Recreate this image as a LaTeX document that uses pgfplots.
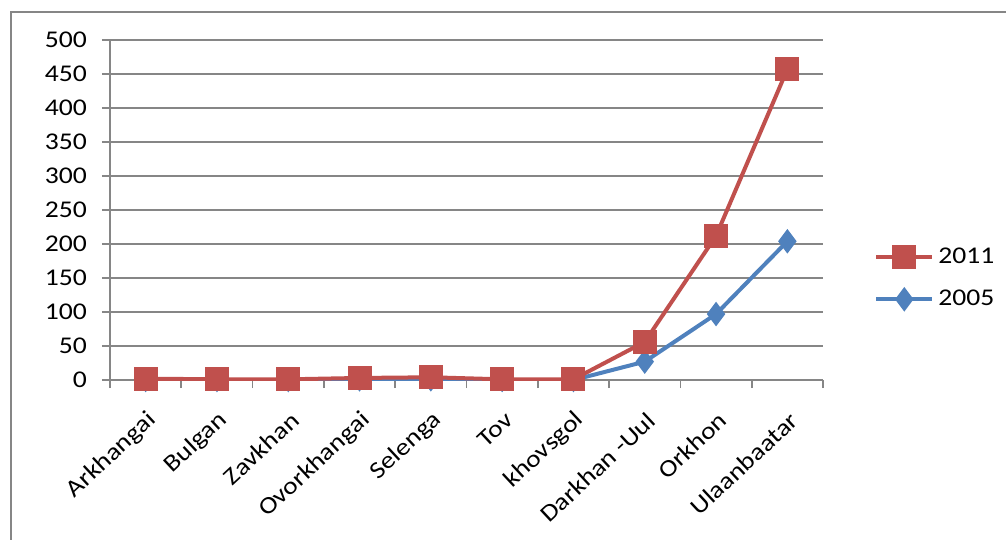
\documentclass[border=0pt]{standalone}
\usepackage{fontspec}
\setmainfont{Carlito}[FakeStretch=1.15]
\usepackage{pgfplots}
\pgfplotsset{compat=1.18}
\definecolor{serred}{HTML}{C0504D}
\definecolor{serblue}{HTML}{4F81BD}
\definecolor{linegray}{HTML}{868686}

\begin{document}
\begin{tikzpicture}
\useasboundingbox (-55pt,-80pt) rectangle (448pt,190pt);
% chart area frame
\draw[linegray, line width=1.2pt] (-49.5pt,-81pt) -- (-49.5pt,184pt) -- (449pt,184pt);
\begin{axis}[
  scale only axis,
  width=356.5pt, height=170pt,
  xmin=0.5, xmax=10.5, ymin=0, ymax=500,
  xtick={1,...,10},
  xticklabels={Arkhangai,Bulgan,Zavkhan,Ovorkhangai,Selenga,Tov,khovsgol,Darkhan -Uul,Orkhon,Ulaanbaatar},
  minor xtick={0.5,1.5,...,10.5},
  ytick={0,50,...,500},
  axis x line*=bottom, axis y line*=left,
  axis line style={linegray, line width=0.8pt},
  tick align=outside,
  major tick length=4pt, minor tick length=4pt,
  tick style={linegray, line width=0.8pt},
  major x tick style={draw=none},
  ymajorgrids,
  grid style={linegray, line width=0.8pt},
  tick label style={font=\fontsize{12}{14}\selectfont, black},
  /pgf/number format/assume math mode=true,
  x tick label style={xshift=6pt, yshift=-12pt, rotate=43, anchor=east},
  y tick label style={xshift=-4pt},
  legend style={at={(1.063,0.3)}, anchor=west, draw=none, fill=none,
    font=\fontsize{12}{14}\selectfont, row sep=8pt,
    legend image code/.code={\draw[mark repeat=2,mark phase=2,#1] plot coordinates {(0pt,0pt)(14pt,0pt)(28pt,0pt)};}},
  legend cell align=left,
  reverse legend,
]
\addplot[serblue, line width=2pt, mark=diamond*, mark size=4.5pt, mark options={solid}]
  coordinates {(1,0) (2,0) (3,0) (4,1) (5,1) (6,0) (7,0) (8,27) (9,97) (10,204)};
\addlegendentry{2005}
\addplot[serred, line width=2pt, mark=square*, mark size=5pt, mark options={solid}]
  coordinates {(1,2) (2,1) (3,1) (4,3) (5,4) (6,1) (7,1) (8,56) (9,212) (10,457)};
\addlegendentry{2011}
\end{axis}
\end{tikzpicture}
\end{document}
